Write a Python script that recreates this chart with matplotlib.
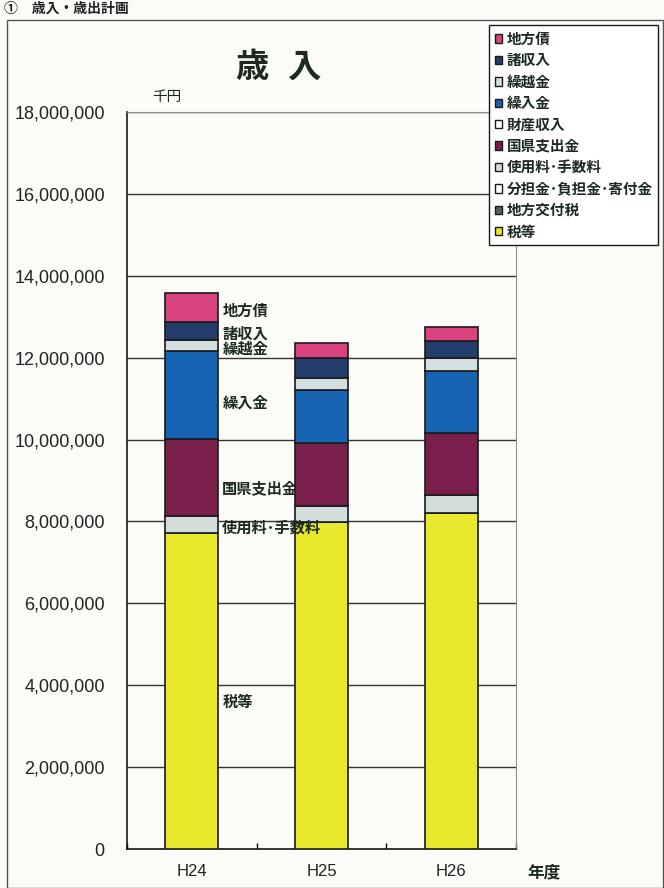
import matplotlib
matplotlib.use("Agg")
import matplotlib.pyplot as plt
from matplotlib.patches import Rectangle, Patch
from matplotlib.ticker import FixedLocator, FuncFormatter
import numpy as np

plt.rcParams['font.family'] = ['Noto Sans CJK JP', 'DejaVu Sans']

years = ["H24", "H25", "H26"]

# revenue items in 千円, bottom of the stack first
categories = ["税等", "地方交付税", "分担金･負担金･寄付金", "使用料･手数料", "国県支出金",
              "財産収入", "繰入金", "繰越金", "諸収入", "地方債"]
tax = [7717000, 7985000, 8205000]
local_alloc_tax = [0, 0, 0]
contributions = [0, 0, 0]
fees = [415000, 391000, 440000]
subsidies = [1880000, 1538000, 1514000]
property_income = [0, 0, 0]
transfers = [2149000, 1294000, 1514000]
carryover = [269000, 293000, 317000]
misc_income = [440000, 488000, 415000]
local_bonds = [708000, 366000, 342000]

series = [tax, local_alloc_tax, contributions, fees, subsidies,
          property_income, transfers, carryover, misc_income, local_bonds]
colors = ["#e8e82c", "#56615f", "#ffffff", "#d2dddc", "#7a1f4c",
          "#ffffff", "#1764b2", "#d4dfe0", "#233d6d", "#d9417f"]

yticks = [0, 2000000, 4000000, 6000000, 8000000, 10000000,
          12000000, 14000000, 16000000, 18000000]

W, H = 664, 888
INK = "#1c2a22"
fig = plt.figure(figsize=(W / 100, H / 100), dpi=100, facecolor="#fbfbf8")

# outer frame of the page box
fig.patches.append(Rectangle((7 / W, 0.0), (656 / W), 1 - 20 / H,
                             transform=fig.transFigure, fill=False,
                             edgecolor="#555555", lw=1.0))
fig.text(4 / W, 1 - 9 / H, "①　歳入・歳出計画", fontsize=10, weight="bold",
         color="#222222", va="center", ha="left")

ax = fig.add_axes([127 / W, 1 - 849 / H, 389 / W, 737 / H])
ax.set_facecolor("#fbfbf8")

x = np.arange(len(years))
width = 0.41
bottom = np.zeros(len(years))
for name, vals, c in zip(categories, series, colors):
    ax.bar(x, vals, width, bottom=bottom, color=c, edgecolor="#1a1a1a",
           linewidth=1.2, label=name, zorder=3)
    bottom += np.array(vals)

ax.set_xlim(-0.5, 2.5)
ax.set_ylim(0, 18000000)
ax.yaxis.set_major_locator(FixedLocator(yticks))
ax.yaxis.set_major_formatter(FuncFormatter(lambda v, p: f"{int(v):,}"))
ax.grid(axis="y", color="#333333", lw=1.0, zorder=0)
ax.tick_params(axis="y", length=0, pad=16, labelsize=13)
for lab in ax.get_yticklabels():
    lab.set_family(["Liberation Sans", "DejaVu Sans"])
    lab.set_color("#222222")

# category ticks between the bars, labels under each bar
ax.xaxis.set_major_locator(FixedLocator([-0.5, 0.5, 1.5, 2.5]))
ax.xaxis.set_major_formatter(FuncFormatter(lambda v, p: ""))
ax.xaxis.set_minor_locator(FixedLocator(x))
ax.set_xticklabels(years, minor=True)
ax.tick_params(axis="x", which="major", direction="in", length=4, width=1)
ax.tick_params(axis="x", which="minor", length=0, pad=11, labelsize=12)
for lab in ax.get_xticklabels(minor=True):
    lab.set_family(["Liberation Sans", "DejaVu Sans"])
    lab.set_color("#222222")

for s in ["left", "bottom"]:
    ax.spines[s].set_color("#1a1a1a")
    ax.spines[s].set_linewidth(1.2)
ax.spines["top"].set_color("#8a948c")
ax.spines["right"].set_color("#8a948c")

# item names next to the H24 bar; the fee label sits on top of the next bar
first = np.array([s[0] for s in series])
mids = np.cumsum(first) - first / 2
nudge = {"国県支出金": -200000, "税等": -200000, "繰入金": -120000}
for name, v, m in zip(categories, first, mids):
    if v == 0:
        continue
    z = 4 if name == "使用料･手数料" else 2.5
    ax.text(0.235, m - 70000 + nudge.get(name, 0), name, fontsize=11,
            weight="bold", color=INK, va="center", ha="left", zorder=z)

fig.text(252 / W, 1 - 67 / H, "歳", fontsize=24, weight="bold", color=INK,
         ha="center", va="center")
fig.text(304 / W, 1 - 67 / H, "入", fontsize=24, weight="bold", color=INK,
         ha="center", va="center")
fig.text(167 / W, 1 - 97 / H, "千円", fontsize=10.5, color=INK,
         ha="center", va="center")
fig.text(544 / W, 1 - 872 / H, "年度", fontsize=12, weight="bold", color=INK,
         ha="center", va="center")

handles = [Patch(facecolor=c, edgecolor="#1a1a1a", lw=1.0) for c in colors][::-1]
leg = fig.legend(handles, categories[::-1], loc="upper left",
                 bbox_to_anchor=(489 / W, 1 - 25 / H),
                 frameon=True, fancybox=False, edgecolor="#1a1a1a",
                 framealpha=1, facecolor="#ffffff", handlelength=0.5,
                 handleheight=0.5, handletextpad=0.3, labelspacing=0.37,
                 borderpad=0.4, borderaxespad=0,
                 prop={"weight": "bold", "size": 10.5})
leg.get_frame().set_linewidth(1.0)
for t in leg.get_texts():
    t.set_color(INK)

fig.savefig("out.png", dpi=100, facecolor=fig.get_facecolor())
